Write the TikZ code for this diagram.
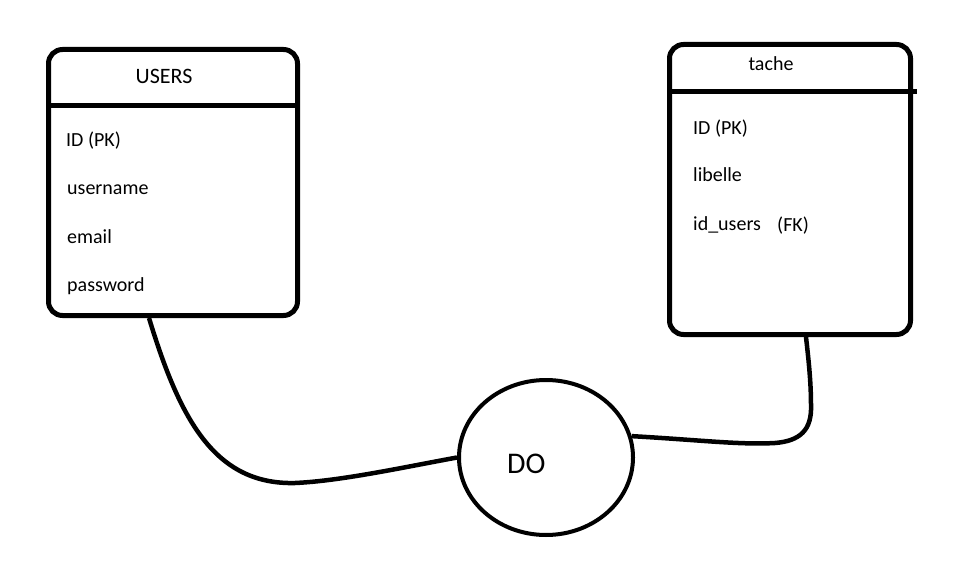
\documentclass[tikz,border=0pt]{standalone}
\usepackage{fontspec}
\setmainfont{Carlito}
\usetikzlibrary{shapes.geometric}
\begin{document}
\begin{tikzpicture}[x=1pt,y=-1pt,
  entity/.style={draw, rectangle, rounded corners=14pt, line width=5pt, inner sep=0pt},
  rel/.style={draw, ellipse, line width=4pt, inner sep=0pt},
  conn/.style={line width=4.5pt},
  sep/.style={line width=5pt},
  fld/.style={anchor=base west, inner sep=0pt, font=\fontsize{20}{23}\selectfont},
  ttl/.style={anchor=base, inner sep=0pt}]
\useasboundingbox (0,0) rectangle (974,564);
% USERS entity
\node[entity, minimum width=249pt, minimum height=266pt] (users) at (173,182.5) {};
\coordinate (uh1) at (48.5,106);
\coordinate (uh2) at (297.5,106);
\draw[sep] (uh1) -- (uh2);
\node[ttl, font=\fontsize{22}{25}\selectfont] (usersT) at (164,84) {USERS};
\node[fld] (u1) at (66,147) {ID (PK)};
\node[fld] (u2) at (67,195) {username};
\node[fld] (u3) at (67,243) {email};
\node[fld] (u4) at (67,291) {password};
% tache entity
\node[entity, minimum width=241pt, minimum height=290pt] (tache) at (790,189.5) {};
\coordinate (th1) at (669.5,92);
\coordinate (th2) at (917,92);
\draw[sep] (th1) -- (th2);
\node[ttl, font=\fontsize{20}{23}\selectfont] (tacheT) at (771,71) {tache};
\node[fld] (t1) at (693,135) {ID (PK)};
\node[fld] (t2) at (693,182) {libelle};
\node[fld] (t3) at (693,230) {id\_users};
\node[fld] (t4) at (777,231) {(FK)};
% relation
\node[rel, minimum width=174pt, minimum height=155pt] (do) at (546,457.5) {};
\node[anchor=base west, inner sep=0pt, font=\fontsize{30}{33}\selectfont] (doT) at (507,473) {DO};
% connectors
\draw[conn] ([xshift=-24pt]users.south) .. controls (180,420) and (215,485) .. (295,483)
  .. controls (340,481) and (400,468) .. (do.west);
\draw[conn] (do.14) .. controls (700,440) and (740,445) .. (775,443)
  .. controls (800,441) and (812,430) .. (811,405)
  .. controls (811,380) and (808,355) .. ([xshift=16pt]tache.south);
\end{tikzpicture}
\end{document}
